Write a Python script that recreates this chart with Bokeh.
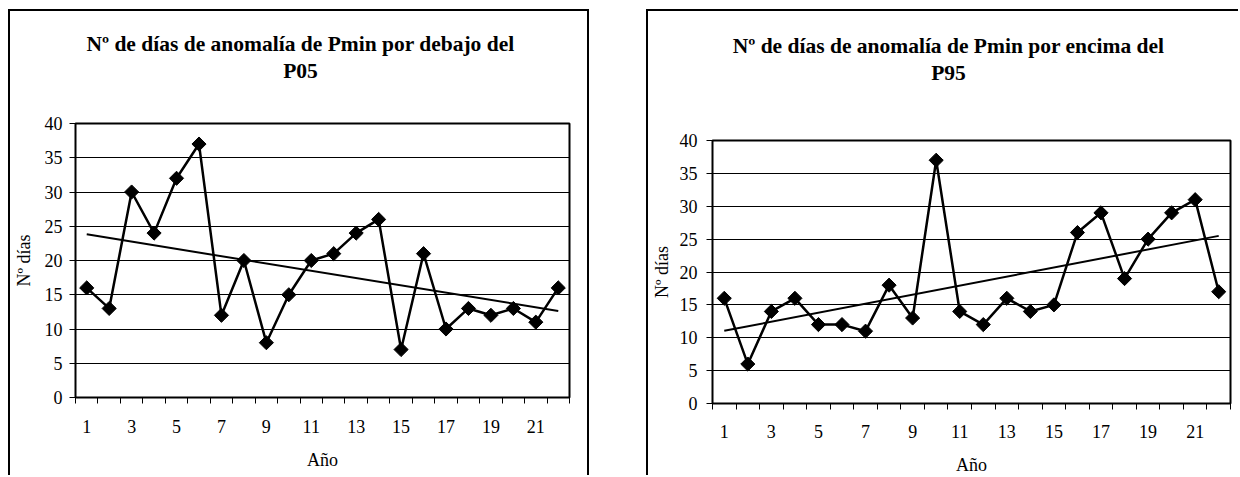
import numpy as np
from bokeh.plotting import figure
from bokeh.models import FixedTicker, Range1d, ColumnDataSource
from bokeh.core.properties import value
from bokeh.embed import file_html
from bokeh.resources import INLINE

# ---- data ----
years = list(range(1, 23))
p05_days = [16, 13, 30, 24, 32, 37, 12, 20, 8, 15, 20, 21, 24, 26, 7, 21, 10, 13, 12, 13, 11, 16]
p95_days = [16, 6, 14, 16, 12, 12, 11, 18, 13, 37, 14, 12, 16, 14, 15, 26, 29, 19, 25, 29, 31, 17]
y_ticks = [0, 5, 10, 15, 20, 25, 30, 35, 40]
x_label_ticks = [1, 3, 5, 7, 9, 11, 13, 15, 17, 19, 21]
title_p05 = ["Nº de días de anomalía de Pmin por debajo del", "P05"]
title_p95 = ["Nº de días de anomalía de Pmin por encima del", "P95"]
x_title = "Año"
y_title = "Nº días"

FONT = "Liberation Serif"
TICK_FS = "18px"
TITLE_FS = "21.5px"


def make_chart(data, w, h, mbl, mbr, mbt, mbb,
               xtick_standoff, xlab_standoff, ytick_standoff, ylab_standoff, styles):
    p = figure(width=w, height=h, x_range=Range1d(0.5, 22.5), y_range=Range1d(0, 40),
               title=None, output_backend="svg", toolbar_location=None,
               min_border_left=mbl, min_border_right=mbr, min_border_top=mbt, min_border_bottom=mbb)
    p.styles = styles
    p.background_fill_color = "white"
    p.border_fill_color = "white"
    p.outline_line_color = "black"
    p.outline_line_width = 2
    p.xgrid.visible = False
    p.ygrid.grid_line_color = "black"
    p.ygrid.grid_line_width = 1

    ya = p.yaxis[0]
    ya.ticker = FixedTicker(ticks=y_ticks, minor_ticks=[])
    ya.major_tick_out = 6
    ya.major_tick_in = 0
    ya.minor_tick_out = 0
    ya.minor_tick_in = 0
    ya.axis_line_color = "black"
    ya.major_label_text_font = FONT
    ya.major_label_text_font_size = TICK_FS
    ya.major_label_text_color = "black"
    ya.major_label_standoff = ytick_standoff
    ya.axis_label = y_title
    ya.axis_label_text_font = FONT
    ya.axis_label_text_font_style = "normal"
    ya.axis_label_text_font_size = TICK_FS
    ya.axis_label_text_color = "black"
    ya.axis_label_standoff = ylab_standoff

    xa = p.xaxis[0]
    xa.ticker = FixedTicker(ticks=x_label_ticks, minor_ticks=[y - 0.5 for y in years] + [years[-1] + 0.5])
    xa.major_tick_out = 0
    xa.major_tick_in = 0
    xa.minor_tick_out = 6
    xa.minor_tick_in = 0
    xa.minor_tick_line_color = "black"
    xa.axis_line_color = "black"
    xa.major_label_text_font = FONT
    xa.major_label_text_font_size = TICK_FS
    xa.major_label_text_color = "black"
    xa.major_label_standoff = xtick_standoff
    xa.axis_label = x_title
    xa.axis_label_text_font = FONT
    xa.axis_label_text_font_style = "normal"
    xa.axis_label_text_font_size = TICK_FS
    xa.axis_label_text_color = "black"
    xa.axis_label_standoff = xlab_standoff

    p.line(years, data, line_color="black", line_width=2.5)
    p.scatter(years, data, marker="square", angle=np.pi / 4, size=10,
              fill_color="black", line_color="black")

    slope, intercept = np.polyfit(years, data, 1)
    tx = [years[0], years[-1]]
    ty = [slope * v + intercept for v in tx]
    p.line(tx, ty, line_color="black", line_width=2)
    return p


def make_title(lines, left, top, w, h, cx, cys):
    """A transparent pixel-space canvas holding the two centred title lines."""
    t = figure(width=w, height=h, x_range=Range1d(0, w), y_range=Range1d(h, 0),
               title=None, output_backend="svg", toolbar_location=None,
               x_axis_type=None, y_axis_type=None, min_border=0)
    t.styles = {"position": "absolute", "left": f"{left}px", "top": f"{top}px"}
    t.background_fill_color = None
    t.border_fill_color = None
    t.outline_line_color = None
    t.grid.visible = False
    src = ColumnDataSource(dict(x=[cx] * len(lines), y=cys, text=lines))
    t.text(x="x", y="y", text="text", source=src, text_align="center", text_baseline="middle",
           text_font=value(FONT), text_font_style="bold", text_font_size=value(TITLE_FS),
           text_color="black")
    return t


# left chart: canvas at page (10, 11), 581 x 466
p1 = make_chart(p05_days, 581, 466, 63, 22, 112, 80,
                16, 14, 7, 8,
                {"position": "absolute", "left": "8px", "top": "9px",
                 "border-left": "2px solid black", "border-top": "2px solid black",
                 "border-right": "2px solid black"})
t1 = make_title(title_p05, 10, 11, 581, 100, 290, [32, 59])

# right chart: canvas at page (648, 11), 592 x 466
p2 = make_chart(p95_days, 592, 466, 62, 10, 129, 72,
                15, 14, 9, 5,
                {"position": "absolute", "left": "646px", "top": "9px",
                 "border-left": "2px solid black", "border-top": "2px solid black"})
t2 = make_title(title_p95, 648, 11, 592, 110, 300, [34, 61])

open("out.html", "w").write(file_html([p1, p2, t1, t2], INLINE))
